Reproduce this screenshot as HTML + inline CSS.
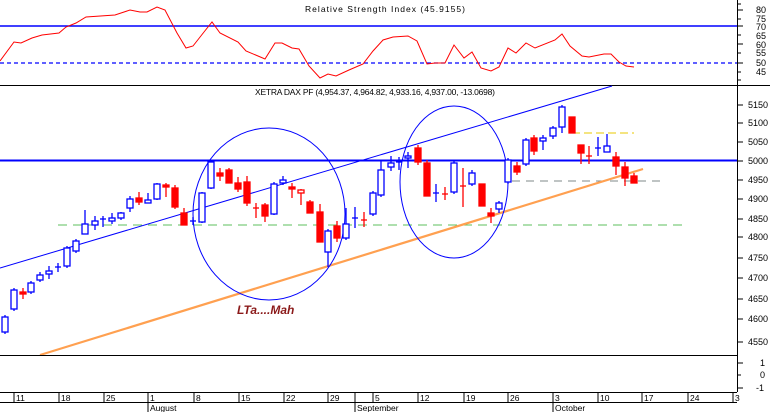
<!DOCTYPE html>
<html><head><meta charset="utf-8"><style>
html,body{margin:0;padding:0;background:#fff;}
svg{display:block;font-family:"Liberation Sans",sans-serif;}
</style></head><body>
<svg width="770" height="412" viewBox="0 0 770 412" xmlns="http://www.w3.org/2000/svg">
<rect width="770" height="412" fill="#fff"/>
<text x="385" y="12" font-size="8.5" text-anchor="middle" fill="#000" textLength="160">Relative Strength Index (45.9155)</text>
<line x1="0" y1="26" x2="737" y2="26" stroke="#0000ff" stroke-width="1.5"/>
<line x1="0" y1="63" x2="737" y2="63" stroke="#0000ff" stroke-width="1.3" stroke-dasharray="4,3"/>
<polyline fill="none" stroke="#ff0000" stroke-width="1" points="0,61 14,42 21,43 32,38 42,35 59,33 66,27 76,23 86,17 115,15 130,10 140,12 147,12 157,7 165,10 177,33 186,48 193,46 204,32 212,22 220,33 238,42 246,51 258,56 265,59 275,43 282,43 292,48 299,49 309,66 320,78 328,74 336,76 349,70 363,64 373,51 383,40 393,37 408,36 417,41 427,64 435,63 445,63 454,45 464,58 472,52 481,68 491,71 499,67 508,48 516,53 526,43 535,48 555,40 562,34 570,46 582,56 589,57 604,54 611,54 619,62 626,66 634,67"/>
<line x1="0" y1="85.5" x2="770" y2="85.5" stroke="#000" stroke-width="1"/>
<g font-size="9" fill="#000">
<text x="756" y="13">80</text><text x="756" y="22">75</text><text x="756" y="30">70</text><text x="756" y="39">65</text><text x="756" y="48">60</text><text x="756" y="56">55</text><text x="756" y="66">50</text><text x="756" y="75">45</text>
</g>
<text x="375" y="95" font-size="8.5" text-anchor="middle" fill="#000" textLength="240">XETRA DAX PF (4,954.37, 4,964.82, 4,933.16, 4,937.00, -13.0698)</text>
<line x1="58" y1="225" x2="688" y2="225" stroke="#5cbf5c" stroke-width="1" stroke-dasharray="9,6"/>
<line x1="512" y1="181" x2="660" y2="181" stroke="#7f8a8a" stroke-width="1" stroke-dasharray="8,6"/>
<line x1="572" y1="133" x2="634" y2="133" stroke="#e8c800" stroke-width="1" stroke-dasharray="8,4"/>
<line x1="0" y1="160.5" x2="737" y2="160.5" stroke="#0000ff" stroke-width="2"/>
<line x1="0" y1="268" x2="612" y2="86" stroke="#0000ff" stroke-width="1"/>
<line x1="40" y1="355" x2="643" y2="169" stroke="#ffa050" stroke-width="2.2"/>
<ellipse cx="269" cy="214" rx="76" ry="86" fill="none" stroke="#0000ff" stroke-width="1"/>
<ellipse cx="454" cy="182" rx="54" ry="76" fill="none" stroke="#0000ff" stroke-width="1"/>
<text x="237" y="314" font-size="12" font-style="italic" font-weight="bold" fill="#8b1a1a">LTa....Mah</text>
<g stroke-width="1.3">
<g stroke="#0000ff" fill="#fff">
<line x1="5" y1="315" x2="5" y2="334"/><rect x="2" y="317" width="6" height="15"/>
<line x1="14" y1="288" x2="14" y2="311"/><rect x="11" y="290" width="6" height="19"/>
<line x1="31" y1="281" x2="31" y2="294"/><rect x="28" y="283" width="6" height="9"/>
<line x1="40" y1="272" x2="40" y2="282"/><rect x="37" y="275" width="6" height="5"/>
<line x1="49" y1="266" x2="49" y2="279"/><rect x="46" y="271" width="6" height="3"/>
<line x1="58" y1="263" x2="58" y2="272"/><line x1="55" y1="267" x2="61" y2="267"/>
<line x1="67" y1="246" x2="67" y2="268"/><rect x="64" y="248" width="6" height="18"/>
<line x1="76" y1="239" x2="76" y2="253"/><rect x="73" y="241" width="6" height="10"/>
<line x1="85" y1="210" x2="85" y2="234"/><rect x="82" y="224" width="6" height="10"/>
<line x1="95" y1="216" x2="95" y2="230"/><rect x="92" y="221" width="6" height="4"/>
<line x1="103" y1="216" x2="103" y2="227"/><line x1="100" y1="219" x2="106" y2="219"/>
<line x1="112" y1="213" x2="112" y2="224"/><rect x="109" y="218" width="6" height="3"/>
<line x1="121" y1="212" x2="121" y2="220"/><rect x="118" y="213" width="6" height="5"/>
<line x1="130" y1="196" x2="130" y2="212"/><rect x="127" y="199" width="6" height="9"/>
<line x1="148" y1="193" x2="148" y2="203"/><rect x="145" y="200" width="6" height="3"/>
<line x1="157" y1="183" x2="157" y2="200"/><rect x="154" y="184" width="6" height="15"/>
<line x1="193" y1="217" x2="193" y2="225"/><line x1="190" y1="221" x2="196" y2="221"/>
<line x1="202" y1="192" x2="202" y2="223"/><rect x="199" y="193" width="6" height="29"/>
<line x1="211" y1="160" x2="211" y2="189"/><rect x="208" y="162" width="6" height="26"/>
<line x1="274" y1="182" x2="274" y2="215"/><rect x="271" y="184" width="6" height="30"/>
<line x1="283" y1="176" x2="283" y2="185"/><rect x="280" y="180" width="6" height="3"/>
<line x1="328" y1="229" x2="328" y2="267"/><rect x="325" y="231" width="6" height="21"/>
<line x1="346" y1="208" x2="346" y2="240"/><rect x="343" y="224" width="6" height="14"/>
<line x1="355" y1="207" x2="355" y2="228"/><line x1="352" y1="218" x2="358" y2="218"/>
<line x1="373" y1="191" x2="373" y2="216"/><rect x="370" y="193" width="6" height="21"/>
<line x1="381" y1="160" x2="381" y2="197"/><rect x="378" y="170" width="6" height="25"/>
<line x1="391" y1="156" x2="391" y2="171"/><rect x="388" y="163" width="6" height="4"/>
<line x1="399" y1="157" x2="399" y2="170"/><line x1="396" y1="162" x2="402" y2="162"/>
<line x1="408" y1="152" x2="408" y2="168"/><rect x="405" y="156" width="6" height="2"/>
<line x1="436" y1="184" x2="436" y2="202"/><line x1="433" y1="193" x2="439" y2="193"/>
<line x1="454" y1="160" x2="454" y2="194"/><rect x="451" y="163" width="6" height="29"/>
<line x1="472" y1="170" x2="472" y2="186"/><rect x="469" y="173" width="6" height="11"/>
<line x1="499" y1="201" x2="499" y2="213"/><rect x="496" y="203" width="6" height="6"/>
<line x1="508" y1="158" x2="508" y2="184"/><rect x="505" y="160" width="6" height="22"/>
<line x1="526" y1="138" x2="526" y2="166"/><rect x="523" y="140" width="6" height="24"/>
<line x1="543" y1="135" x2="543" y2="150"/><rect x="540" y="138" width="6" height="3"/>
<line x1="553" y1="126" x2="553" y2="139"/><rect x="550" y="128" width="6" height="8"/>
<line x1="562" y1="105" x2="562" y2="133"/><rect x="559" y="107" width="6" height="20"/>
<line x1="598" y1="137" x2="598" y2="156"/><line x1="595" y1="148" x2="601" y2="148"/>
<line x1="607" y1="134" x2="607" y2="152"/><rect x="604" y="146" width="6" height="6"/>
</g>
<g stroke="#ff0000" fill="#ff0000">
<line x1="23" y1="288" x2="23" y2="299"/><rect x="20" y="292" width="6" height="2"/>
<line x1="139" y1="192" x2="139" y2="205"/><rect x="136" y="198" width="6" height="4"/>
<line x1="166" y1="183" x2="166" y2="197"/><rect x="163" y="185" width="6" height="2"/>
<line x1="175" y1="185" x2="175" y2="209"/><rect x="172" y="188" width="6" height="19"/>
<line x1="184" y1="208" x2="184" y2="225"/><rect x="181" y="213" width="6" height="12"/>
<line x1="220" y1="168" x2="220" y2="181"/><rect x="217" y="173" width="6" height="3"/>
<line x1="229" y1="168" x2="229" y2="183"/><rect x="226" y="170" width="6" height="13"/>
<line x1="238" y1="177" x2="238" y2="192"/><rect x="235" y="183" width="6" height="6"/>
<line x1="247" y1="176" x2="247" y2="206"/><rect x="244" y="182" width="6" height="21"/>
<line x1="256" y1="203" x2="256" y2="218"/><line x1="253" y1="208" x2="259" y2="208"/>
<line x1="265" y1="203" x2="265" y2="222"/><rect x="262" y="205" width="6" height="11"/>
<line x1="292" y1="183" x2="292" y2="198"/><rect x="289" y="187" width="6" height="2"/>
<line x1="301" y1="189" x2="301" y2="205"/><rect x="298" y="190" width="6" height="3" fill="#fff"/>
<line x1="310" y1="200" x2="310" y2="213"/><rect x="307" y="202" width="6" height="11"/>
<line x1="320" y1="204" x2="320" y2="242"/><rect x="317" y="212" width="6" height="30"/>
<line x1="337" y1="221" x2="337" y2="242"/><rect x="334" y="226" width="6" height="12"/>
<line x1="364" y1="212" x2="364" y2="227"/><line x1="361" y1="220" x2="367" y2="220"/>
<line x1="418" y1="145" x2="418" y2="165"/><rect x="415" y="148" width="6" height="14"/>
<line x1="427" y1="160" x2="427" y2="196"/><rect x="424" y="163" width="6" height="33"/>
<line x1="445" y1="187" x2="445" y2="200"/><line x1="442" y1="194" x2="448" y2="194"/>
<line x1="463" y1="168" x2="463" y2="207"/><line x1="460" y1="186" x2="466" y2="186"/>
<line x1="482" y1="184" x2="482" y2="206"/><rect x="479" y="184" width="6" height="22"/>
<line x1="491" y1="208" x2="491" y2="223"/><rect x="488" y="213" width="6" height="3"/>
<line x1="517" y1="162" x2="517" y2="175"/><rect x="514" y="166" width="6" height="6"/>
<line x1="534" y1="135" x2="534" y2="155"/><rect x="531" y="138" width="6" height="13"/>
<line x1="572" y1="117" x2="572" y2="133"/><rect x="569" y="117" width="6" height="16"/>
<line x1="581" y1="145" x2="581" y2="164"/><rect x="578" y="145" width="6" height="8"/>
<line x1="589" y1="146" x2="589" y2="164"/><line x1="586" y1="156" x2="592" y2="156"/>
<line x1="616" y1="152" x2="616" y2="175"/><rect x="613" y="157" width="6" height="9"/>
<line x1="625" y1="162" x2="625" y2="186"/><rect x="622" y="167" width="6" height="11"/>
<line x1="634" y1="173" x2="634" y2="183"/><rect x="631" y="176" width="6" height="7"/>
</g>
</g>
<g font-size="9" fill="#000">
<text x="748" y="108">5150</text><text x="748" y="126">5100</text><text x="748" y="145">5050</text><text x="748" y="164">5000</text><text x="748" y="183">4950</text><text x="748" y="202">4900</text><text x="748" y="222">4850</text><text x="748" y="240">4800</text><text x="748" y="261">4750</text><text x="748" y="281">4700</text><text x="748" y="302">4650</text><text x="748" y="322">4600</text><text x="748" y="345">4550</text>
</g>
<line x1="0" y1="355.5" x2="737" y2="355.5" stroke="#000" stroke-width="1"/>
<g font-size="9" fill="#000">
<text x="760" y="366">1</text><text x="760" y="378">0</text><text x="756" y="391">-1</text>
</g>
<line x1="737.5" y1="0" x2="737.5" y2="392" stroke="#000" stroke-width="1"/>
<g stroke="#000" stroke-width="1">
<line x1="737" y1="4" x2="741" y2="4"/><line x1="737" y1="10" x2="743" y2="10"/><line x1="737" y1="19" x2="741" y2="19"/><line x1="737" y1="26" x2="743" y2="26"/><line x1="737" y1="35" x2="741" y2="35"/><line x1="737" y1="44" x2="743" y2="44"/><line x1="737" y1="53" x2="741" y2="53"/><line x1="737" y1="63" x2="743" y2="63"/><line x1="737" y1="72" x2="741" y2="72"/><line x1="737" y1="80" x2="741" y2="80"/>
<line x1="737" y1="105" x2="743" y2="105"/><line x1="737" y1="123" x2="743" y2="123"/><line x1="737" y1="142" x2="743" y2="142"/><line x1="737" y1="161" x2="743" y2="161"/><line x1="737" y1="180" x2="743" y2="180"/><line x1="737" y1="199" x2="743" y2="199"/><line x1="737" y1="219" x2="743" y2="219"/><line x1="737" y1="237" x2="743" y2="237"/><line x1="737" y1="258" x2="743" y2="258"/><line x1="737" y1="278" x2="743" y2="278"/><line x1="737" y1="299" x2="743" y2="299"/><line x1="737" y1="319" x2="743" y2="319"/><line x1="737" y1="342" x2="743" y2="342"/>
<line x1="737" y1="363" x2="743" y2="363"/><line x1="737" y1="375" x2="741" y2="375"/><line x1="737" y1="388" x2="743" y2="388"/>
</g>
<line x1="0" y1="392.5" x2="737" y2="392.5" stroke="#000" stroke-width="1"/>
<line x1="0" y1="402.5" x2="737" y2="402.5" stroke="#000" stroke-width="1"/>
<g stroke="#000" stroke-width="1">
<line x1="14" y1="392" x2="14" y2="402"/><line x1="59" y1="392" x2="59" y2="402"/><line x1="104" y1="392" x2="104" y2="402"/><line x1="148" y1="392" x2="148" y2="412"/><line x1="194" y1="392" x2="194" y2="402"/><line x1="239" y1="392" x2="239" y2="402"/><line x1="284" y1="392" x2="284" y2="402"/><line x1="328" y1="392" x2="328" y2="402"/><line x1="355" y1="392" x2="355" y2="412"/><line x1="373" y1="392" x2="373" y2="402"/><line x1="418" y1="392" x2="418" y2="402"/><line x1="464" y1="392" x2="464" y2="402"/><line x1="508" y1="392" x2="508" y2="402"/><line x1="553" y1="392" x2="553" y2="412"/><line x1="598" y1="392" x2="598" y2="402"/><line x1="642" y1="392" x2="642" y2="402"/><line x1="688" y1="392" x2="688" y2="402"/><line x1="733" y1="392" x2="733" y2="402"/>
</g>
<g font-size="8.5" fill="#000">
<text x="16" y="401">11</text><text x="61" y="401">18</text><text x="106" y="401">25</text><text x="150" y="401">1</text><text x="196" y="401">8</text><text x="241" y="401">15</text><text x="286" y="401">22</text><text x="330" y="401">29</text><text x="375" y="401">5</text><text x="420" y="401">12</text><text x="466" y="401">19</text><text x="510" y="401">26</text><text x="555" y="401">3</text><text x="600" y="401">10</text><text x="644" y="401">17</text><text x="690" y="401">24</text><text x="735" y="401">3</text>
<text x="150" y="411">August</text><text x="357" y="411">September</text><text x="555" y="411">October</text>
</g>
</svg>
</body></html>
